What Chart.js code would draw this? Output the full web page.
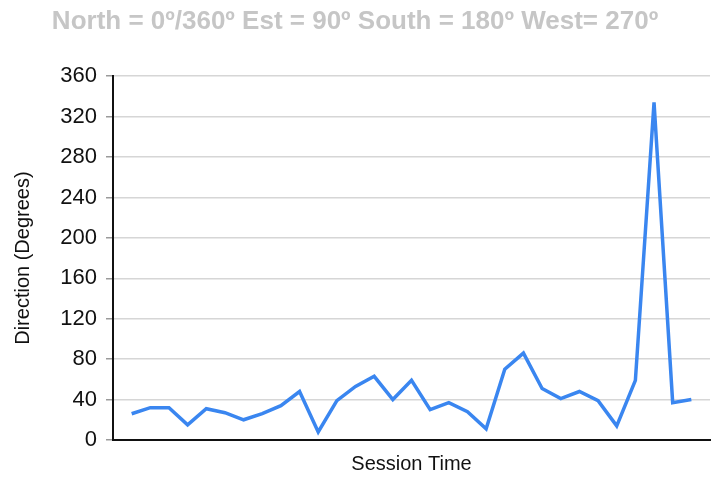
<!DOCTYPE html>
<html>
<head>
<meta charset="utf-8">
<script src="https://cdn.jsdelivr.net/npm/chart.js@4/dist/chart.umd.min.js"></script>
<style>
  html, body { margin: 0; padding: 0; background: #ffffff; }
  #wrap { width: 720px; height: 480px; }
</style>
</head>
<body>
<div id="wrap"><canvas id="c" width="720" height="480"></canvas></div>
<script>
const chartTitle = "North = 0º/360º Est = 90º South = 180º West= 270º";
const xTitle = "Session Time";
const yTitle = "Direction (Degrees)";
const sessions = [1, 2, 3, 4, 5, 6, 7, 8, 9, 10, 11, 12, 13, 14, 15, 16, 17, 18, 19, 20, 21, 22, 23, 24, 25, 26, 27, 28, 29, 30, 31];
const direction = [26, 32, 32, 15, 31, 27, 20, 26, 34, 48, 8, 39, 53, 63, 40, 59, 30, 37, 28, 11, 70, 86, 51, 41, 48, 39, 14, 59, 334, 37, 40];
const yMin = 0, yMax = 360, yStep = 40;
const xMin = 0, xMax = 32;

const points = sessions.map((s, i) => ({ x: s, y: direction[i] }));

new Chart(document.getElementById('c'), {
  type: 'line',
  data: {
    datasets: [{
      data: points,
      borderColor: '#3a86f0',
      borderWidth: 3.5,
      pointRadius: 0,
      tension: 0,
      fill: false
    }]
  },
  options: {
    responsive: false,
    animation: false,
    devicePixelRatio: 1,
    layout: { padding: { left: 0, right: 10, top: 0, bottom: 0 } },
    plugins: {
      legend: { display: false },
      tooltip: { enabled: false },
      title: {
        display: true,
        text: chartTitle,
        color: '#c6c6c6',
        font: { family: 'Liberation Sans, Arial, sans-serif', size: 26, weight: 'bold' },
        padding: { top: 6, bottom: 39 }
      }
    },
    scales: {
      x: {
        type: 'linear',
        min: xMin,
        max: xMax,
        grid: { display: false },
        border: { display: true, color: '#111111', width: 2 },
        ticks: { display: false },
        title: {
          display: true,
          text: xTitle,
          color: '#111111',
          font: { family: 'Liberation Sans, Arial, sans-serif', size: 20 },
          padding: { top: 0, bottom: 4 }
        },
        afterFit: (s) => { s.height = 40; }
      },
      y: {
        min: yMin,
        max: yMax,
        ticks: {
          stepSize: yStep,
          color: '#111111',
          padding: 9,
          font: { family: 'Liberation Sans, Arial, sans-serif', size: 22 }
        },
        grid: {
          color: '#d6d6d6',
          lineWidth: 1.5,
          tickLength: 7,
          tickColor: '#9a9a9a',
          tickWidth: 1.5
        },
        border: { display: true, color: '#111111', width: 2 },
        title: {
          display: true,
          text: yTitle,
          color: '#111111',
          font: { family: 'Liberation Sans, Arial, sans-serif', size: 20 },
          padding: { top: 11, bottom: 0 }
        },
        afterFit: (s) => { s.width = 113; }
      }
    }
  }
});
</script>
</body>
</html>
